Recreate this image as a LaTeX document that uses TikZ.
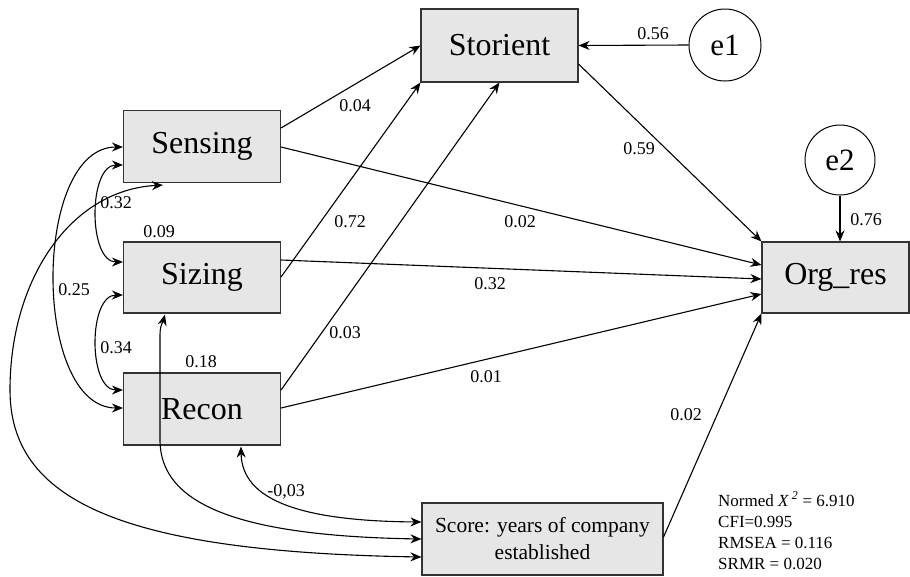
\documentclass[tikz,border=0pt]{standalone}
\usepackage{fontspec}
\setmainfont{Liberation Serif}
\usetikzlibrary{arrows.meta,calc}
\definecolor{boxfill}{HTML}{E6E6E6}
\definecolor{boxline}{HTML}{333333}
\begin{document}
\begin{tikzpicture}[x=1pt,y=-1pt,
  box/.style={draw=boxline,fill=boxfill,line width=1.1pt,minimum width=157pt,minimum height=72pt,inner sep=0pt,font=\fontsize{32}{38}\selectfont},
  err/.style={draw=black,line width=1pt,circle,minimum size=72pt,inner sep=0pt,font=\fontsize{31}{36}\selectfont},
  arr/.style={line width=1.1pt,-{Stealth[length=11pt,width=9pt]}},
  dbl/.style={line width=1.1pt,{Stealth[length=11pt,width=9pt]}-{Stealth[length=11pt,width=9pt]}},
  lab/.style={font=\fontsize{18}{21}\selectfont,inner sep=0pt},
  stat/.style={font=\fontsize{17}{20}\selectfont,inner sep=0pt,anchor=base west}]
\useasboundingbox (0,0) rectangle (910,576);

% nodes
\node[box] (sens) at (202,146.5) {Sensing};
\node[box,minimum height=71pt] (siz) at (202,277.5) {Sizing};
\node[box] (rec) at (202,409) {Recon};
\node[box,minimum height=73pt] (stor) at (499.5,45.5) {Storient};
\node[box,minimum width=147pt,minimum height=71pt] (org) at (835.5,277.5) {Org\_res};
\node[box,minimum width=241pt,minimum height=72pt,align=center,font=\fontsize{21.5}{27}\selectfont] (score) at (542.5,539) {Score: years of company\\established};
\node[err] (e1) at (725,45) {e1};
\node[err,minimum size=70pt] (e2) at (840,160) {e2};

% directed paths
\draw[arr] (sens.east |- 0,128) -- (stor.west);
\draw[arr] (siz.east |- 0,277) -- (stor.south west);
\draw[arr] (rec.east |- 0,390) -- (stor.south);
\draw[arr] (stor.east |- 0,64) -- (org.north west);
\draw[arr] (sens.east |- 0,147) -- (org.west |- 0,265);
\draw[arr] (siz.east |- 0,260) -- (org.west |- 0,279);
\draw[arr] (rec.east |- 0,408) -- (org.west |- 0,294);
\draw[arr] (score.east |- 0,537) -- (org.south west);
\draw[arr] (e1.west) -- (stor.east);
\draw[arr] (e2.south) -- (e2.south |- org.north);

% covariances
\draw[dbl] (sens.west |- 0,165) .. controls (88,165) and (88,262) .. (siz.west |- 0,262);
\draw[dbl] (siz.west |- 0,295) .. controls (88,295) and (88,390) .. (rec.west |- 0,390);
\draw[dbl] (sens.west |- 0,147) .. controls (32,147) and (32,408) .. (rec.west |- 0,408);
\coordinate (sb) at ($(sens.south west)+(40,2)$);
\coordinate (zb) at ($(siz.south west)+(42,1)$);
\coordinate (rb) at ($(rec.south west)+(118,1)$);
\coordinate (lft) at (10,390);
\coordinate (vz) at (160,440);
\draw[line width=1.1pt,-{Stealth[length=11pt,width=9pt]}] (lft) .. controls (10,280) and (70,190) .. (sb);
\draw[line width=1.1pt,-{Stealth[length=11pt,width=9pt]}] (lft) .. controls (10,500) and (120,552) .. (score.west |- 0,557);
\draw[line width=1.1pt,-{Stealth[length=11pt,width=9pt]}] (vz) -- (160,335) .. controls (160,325) and (163,322) .. (zb);
\draw[line width=1.1pt,-{Stealth[length=11pt,width=9pt]}] (vz) .. controls (160,505) and (240,536) .. (score.west |- 0,539);
\draw[dbl] (rb) .. controls (242,500) and (300,521) .. (score.west |- 0,522);

% labels
\node[lab] (l1) at (355,106) {0.04};
\node[lab] (l2) at (350,222) {0.72};
\node[lab] (l3) at (520,222) {0.02};
\node[lab] (l4) at (490,284) {0.32};
\node[lab] (l5) at (345,333) {0.03};
\node[lab] (l6) at (486,377) {0.01};
\node[lab] (l7) at (639,149) {0.59};
\node[lab] (l8) at (653,34) {0.56};
\node[lab] (l9) at (866,220) {0.76};
\node[lab] (l10) at (686,415) {0.02};
\node[lab] (l11) at (116,203) {0.32};
\node[lab] (l12) at (159,232) {0.09};
\node[lab] (l13) at (74,290) {0.25};
\node[lab] (l14) at (116,348) {0.34};
\node[lab] (l15) at (201,362) {0.18};
\node[lab] (l16) at (286,492) {-0,03};

% fit statistics
\node[stat] (s1) at (718,506) {Normed \textit{X}\,\textsuperscript{\itshape 2} = 6.910};
\node[stat] (s2) at (718,527) {CFI=0.995};
\node[stat] (s3) at (718,548) {RMSEA = 0.116};
\node[stat] (s4) at (718,569) {SRMR = 0.020};
\end{tikzpicture}
\end{document}
